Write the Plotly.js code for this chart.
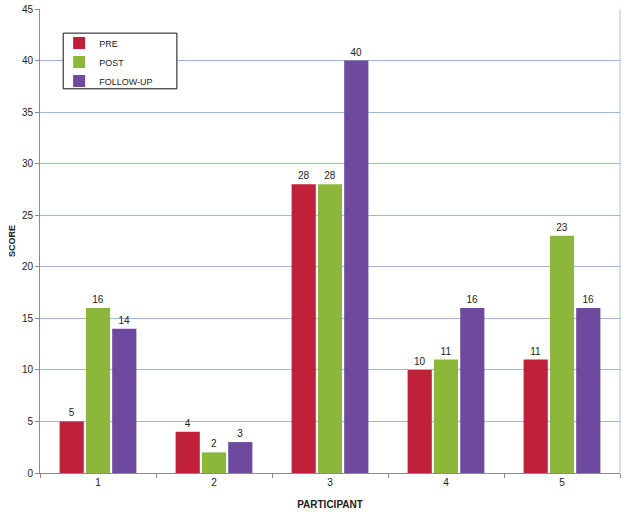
<!DOCTYPE html>
<html>
<head>
<meta charset="utf-8">
<script src="https://cdn.plot.ly/plotly-3.0.1.min.js"></script>
<style>
  html, body { margin: 0; padding: 0; background: #fff; }
  #chart { width: 629px; height: 512px; }
</style>
</head>
<body>
<div id="chart"></div>
<script>
// participants on the x axis
var participants = ["1", "2", "3", "4", "5"];

// scores per phase
var preScores = [5, 4, 28, 10, 11];
var postScores = [16, 2, 28, 11, 23];
var followUpScores = [14, 3, 40, 16, 16];

var yTicks = [0, 5, 10, 15, 20, 25, 30, 35, 40, 45];

var labelFont = { family: "Liberation Sans, Arial, sans-serif", size: 10, color: "#222" };

function barTrace(name, values, color) {
  return {
    type: "bar",
    name: name,
    x: participants,
    y: values,
    marker: { color: color },
    text: values.map(String),
    textposition: "outside",
    textfont: labelFont,
    cliponaxis: false,
    hoverinfo: "x+y+name"
  };
}

var data = [
  barTrace("PRE", preScores, "#C1203B"),
  barTrace("POST", postScores, "#8DB73B"),
  barTrace("FOLLOW-UP", followUpScores, "#6D4A9E")
];

var layout = {
  width: 629,
  height: 512,
  margin: { l: 40, r: 9, t: 9, b: 39 },
  paper_bgcolor: "#fff",
  plot_bgcolor: "#fff",
  font: { family: "Liberation Sans, Arial, sans-serif", size: 10, color: "#222" },
  barmode: "group",
  bargap: 0.32,
  bargroupgap: 0.08,
  showlegend: true,
  legend: {
    x: 0.033,
    y: 0.958,
    xanchor: "left",
    yanchor: "top",
    bgcolor: "rgba(0,0,0,0)",
    borderwidth: 0,
    font: { family: "Liberation Sans, Arial, sans-serif", size: 9, color: "#222" },
    itemwidth: 30,
    tracegroupgap: 0
  },
  shapes: [
    {
      // legend frame
      type: "rect",
      xref: "paper",
      yref: "paper",
      x0: 0.04,
      x1: 0.236,
      y0: 0.828,
      y1: 0.948,
      line: { color: "#111", width: 1 },
      fillcolor: "#fff",
      layer: "above"
    },
    {
      // right border of the plot area
      type: "line",
      xref: "paper",
      yref: "paper",
      x0: 1, x1: 1, y0: 0, y1: 1,
      line: { color: "#A9C0DC", width: 1 },
      layer: "below"
    }
  ],
  xaxis: {
    type: "category",
    title: { text: "<b>PARTICIPANT</b>", font: { size: 10, color: "#222" }, standoff: 13 },
    showline: true,
    linecolor: "#8c8c8c",
    linewidth: 1,
    ticks: "outside",
    tickson: "boundaries",
    ticklen: 4,
    tickcolor: "#8c8c8c",
    showgrid: false,
    tickfont: labelFont,
    fixedrange: true
  },
  yaxis: {
    title: { text: "<b>SCORE</b>", font: { size: 9, color: "#222" }, standoff: 4 },
    range: [0, 45],
    tickvals: yTicks,
    showline: true,
    linecolor: "#8c8c8c",
    linewidth: 1,
    ticks: "outside",
    ticklen: 4,
    tickcolor: "#8c8c8c",
    showgrid: true,
    gridcolor: "#9DB8DA",
    gridwidth: 1,
    zeroline: false,
    tickfont: labelFont,
    fixedrange: true
  }
};

Plotly.newPlot("chart", data, layout, { displayModeBar: false, staticPlot: true });
</script>
</body>
</html>
